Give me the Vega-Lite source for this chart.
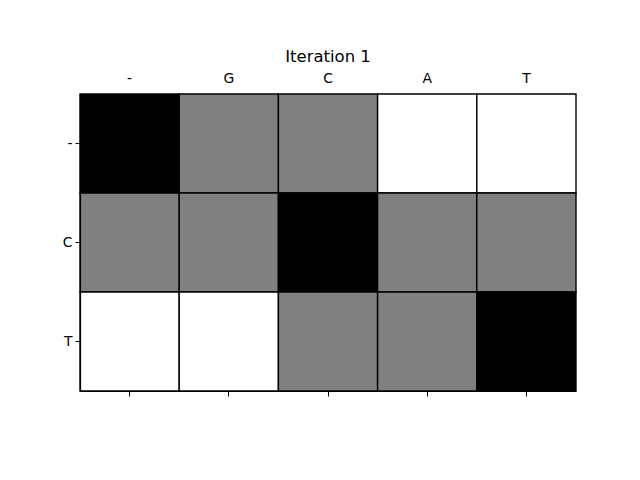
{
  "$schema": "https://vega.github.io/schema/vega-lite/v6.json",
  "width": 496,
  "height": 297,
  "autosize": "none",
  "padding": {"left": 80, "top": 94, "right": 64, "bottom": 89},
  "background": "white",
  "config": {"view": {"stroke": null}, "font": "DejaVu Sans"},
  "title": {"text": "Iteration 1", "fontSize": 16.5, "fontWeight": "normal", "font": "DejaVu Sans", "color": "black", "offset": 6},
  "data": {"values": [
    {"col": "-", "row": "-", "v": 0},
    {"col": "G", "row": "-", "v": 1},
    {"col": "C", "row": "-", "v": 1},
    {"col": "A", "row": "-", "v": 2},
    {"col": "T", "row": "-", "v": 2},
    {"col": "-", "row": "C", "v": 1},
    {"col": "G", "row": "C", "v": 1},
    {"col": "C", "row": "C", "v": 0},
    {"col": "A", "row": "C", "v": 1},
    {"col": "T", "row": "C", "v": 1},
    {"col": "-", "row": "T", "v": 2},
    {"col": "G", "row": "T", "v": 2},
    {"col": "C", "row": "T", "v": 1},
    {"col": "A", "row": "T", "v": 1},
    {"col": "T", "row": "T", "v": 0}
  ]},
  "resolve": {"axis": {"x": "independent"}},
  "layer": [
    {
      "mark": {"type": "rect", "stroke": "black", "strokeWidth": 1.4},
      "encoding": {
        "x": {"field": "col", "type": "nominal", "sort": ["-", "G", "C", "A", "T"],
              "scale": {"paddingInner": 0, "paddingOuter": 0},
              "axis": {"orient": "top", "title": null, "ticks": false, "domain": false, "labelAngle": 0,
                       "labelFontSize": 13.9, "labelColor": "black", "labelPadding": 9, "labelFont": "DejaVu Sans"}},
        "y": {"field": "row", "type": "nominal", "sort": ["-", "C", "T"],
              "scale": {"paddingInner": 0, "paddingOuter": 0},
              "axis": {"title": null, "tickSize": 5, "tickColor": "black", "domainColor": "black", "domainWidth": 1.2,
                       "labelFontSize": 13.9, "labelColor": "black", "labelPadding": 3, "labelFont": "DejaVu Sans"}},
        "color": {"field": "v", "type": "ordinal", "scale": {"domain": [0, 1, 2], "range": ["#000000", "#808080", "#ffffff"]}, "legend": null}
      }
    },
    {
      "mark": {"type": "rect", "opacity": 0},
      "encoding": {
        "x": {"field": "col", "type": "nominal", "sort": ["-", "G", "C", "A", "T"],
              "axis": {"orient": "bottom", "title": null, "labels": false, "tickSize": 5, "tickColor": "black",
                       "domainColor": "black", "domainWidth": 1.2}},
        "y": {"field": "row", "type": "nominal", "sort": ["-", "C", "T"]}
      }
    }
  ]
}
